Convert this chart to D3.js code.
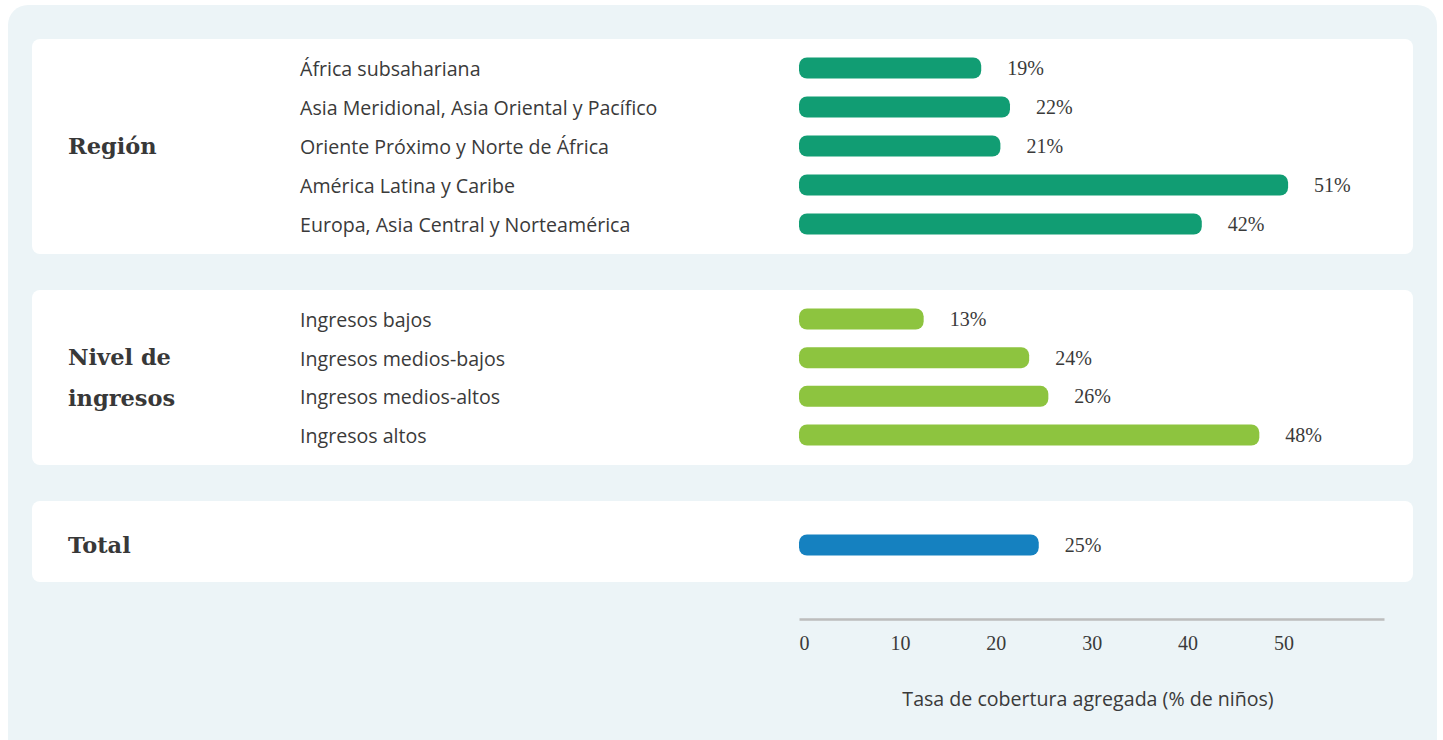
<!DOCTYPE html>
<html>
<head>
<meta charset="utf-8">
<script src="https://cdn.jsdelivr.net/npm/d3@7"></script>
<style>
  body { margin: 0; background: #ffffff; }
  #chart { width: 1443px; height: 740px; }
</style>
</head>
<body>
<div id="chart"></div>
<script>
// data
var regionLabels = ["África subsahariana", "Asia Meridional, Asia Oriental y Pacífico",
  "Oriente Próximo y Norte de África", "América Latina y Caribe", "Europa, Asia Central y Norteamérica"];
var regionValues = [19, 22, 21, 51, 42];

var incomeLabels = ["Ingresos bajos", "Ingresos medios-bajos", "Ingresos medios-altos", "Ingresos altos"];
var incomeValues = [13, 24, 26, 48];

var totalLabels = ["Total"];
var totalValues = [25];

var groupTitles = [["Región"], ["Nivel de", "ingresos"], ["Total"]];
var tickValues = [0, 10, 20, 30, 40, 50];
var axisTitle = "Tasa de cobertura agregada (% de niños)";

var width = 1443, height = 740;

var svg = d3.select("#chart").append("svg")
    .attr("width", width)
    .attr("height", height);

// outer panel
svg.append("rect")
    .attr("x", 8).attr("y", 5)
    .attr("width", 1429).attr("height", 760)
    .attr("rx", 20)
    .attr("fill", "#ecf4f7");

// x scale shared by all groups
var x = d3.scaleLinear()
    .domain([0, 61])
    .range([799, 1384]);

var groups = [
  {title: groupTitles[0], labels: regionLabels, values: regionValues, color: "#119d73",
   top: 39, bottom: 254, first: 68, last: 224},
  {title: groupTitles[1], labels: incomeLabels, values: incomeValues, color: "#8dc43f",
   top: 290, bottom: 465, first: 319, last: 435},
  {title: groupTitles[2], labels: totalLabels, values: totalValues, color: "#1581c0",
   top: 501, bottom: 589, first: 545, last: 545}
];

groups.forEach(function(g) {
  var card = svg.append("g");

  card.append("rect")
      .attr("x", 32).attr("y", g.top)
      .attr("width", 1381).attr("height", Math.min(g.bottom, 582) - g.top)
      .attr("rx", 8)
      .attr("fill", "#ffffff");

  var y = d3.scalePoint()
      .domain(d3.range(g.values.length))
      .range([g.first, g.last]);

  // group title, centred on the card
  var mid = (g.top + g.bottom) / 2;
  var lineH = 41;
  card.append("text")
      .attr("y", mid - (g.title.length - 1) * lineH / 2)
      .style("font", "bold 22.5px 'DejaVu Serif'")
      .attr("fill", "#383838")
      .selectAll("tspan")
      .data(g.title)
      .enter().append("tspan")
        .attr("x", 68)
        .attr("dy", function(d, i) { return i == 0 ? "0.35em" : lineH; })
        .text(function(d) { return d; });

  // row labels (the total row has none)
  if (g.labels.length > 1) {
    card.selectAll(".lab")
        .data(g.labels)
        .enter().append("text")
          .attr("x", 300)
          .attr("y", function(d, i) { return y(i) + 1; })
          .attr("dy", "0.35em")
          .style("font", "19.6px 'Open Sans'")
          .attr("fill", "#3a3a3a")
          .text(function(d) { return d; });
  }

  // bars
  card.selectAll(".bar")
      .data(g.values)
      .enter().append("rect")
        .attr("x", x(0))
        .attr("y", function(d, i) { return y(i) - 10.5; })
        .attr("width", function(d) { return x(d) - x(0); })
        .attr("height", 21)
        .attr("rx", 8)
        .attr("fill", g.color);

  // value labels
  card.selectAll(".val")
      .data(g.values)
      .enter().append("text")
        .attr("x", function(d) { return x(d) + 26; })
        .attr("y", function(d, i) { return y(i); })
        .attr("dy", "0.35em")
        .style("font", "20px 'Liberation Serif'")
        .attr("fill", "#3a3a3a")
        .text(function(d) { return d + "%"; });
});

// x axis
var axis = svg.append("g")
    .attr("transform", "translate(0,619)")
    .call(d3.axisBottom(x).tickValues(tickValues).tickSize(0).tickPadding(0));

axis.select(".domain")
    .attr("stroke", "#bdbdbd")
    .attr("stroke-width", 2.5);

axis.selectAll("text")
    .attr("dx", 5)
    .attr("y", 24)
    .attr("dy", "0.35em")
    .style("font", "20px 'Liberation Serif'")
    .attr("fill", "#3a3a3a");

// axis title
svg.append("text")
    .attr("x", 1088)
    .attr("y", 699)
    .attr("text-anchor", "middle")
    .attr("dy", "0.35em")
    .style("font", "19.6px 'Open Sans'")
    .attr("fill", "#3a3a3a")
    .text(axisTitle);
</script>
</body>
</html>
